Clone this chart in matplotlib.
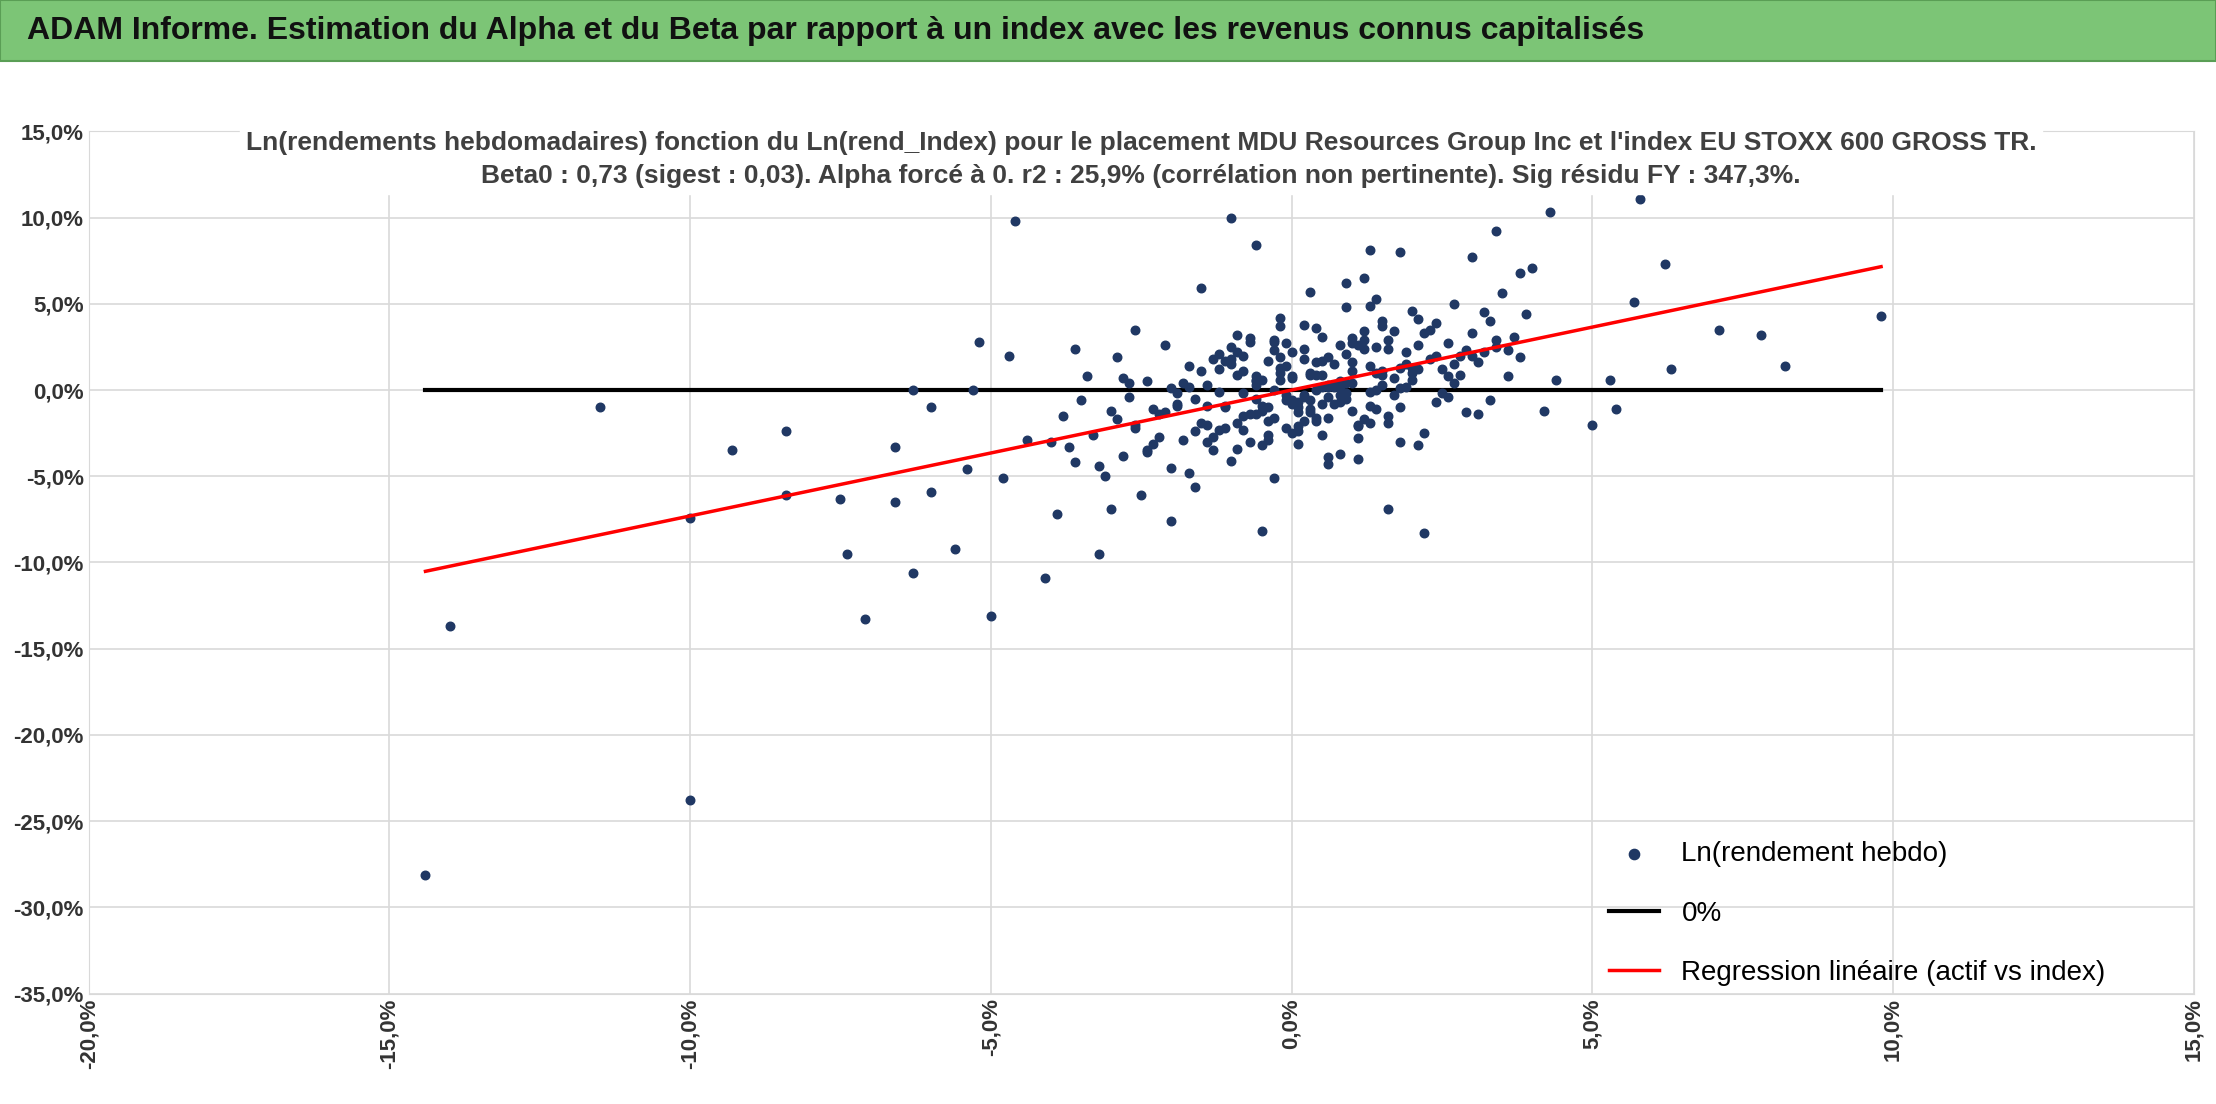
import numpy as np
import matplotlib.pyplot as plt
from matplotlib.ticker import FuncFormatter

# Data (values in %)
idx_ret = [-14.4, -14.0, -11.5, -10.0, -10.0, -9.3, -8.4, -8.4, -7.5, -7.4, -7.1, -6.6, -6.6, -6.3, -6.3,
           -6.0, -6.0, -5.6, -5.4, -5.3, -5.2, -5.0, -4.8, -4.6, -4.7, -4.4, -4.1, -4.0, -3.9, -3.6,
           -3.2, -3.0, -2.6, -2.0, -1.5, -1.0, -0.6, -0.5, 1.3, 1.6, 1.8, 2.2, 3.0, 3.4, 4.3,
           5.8, 5.7, 6.2, 6.3, 7.1, 7.8, 8.2, 9.8, 5.0, 5.4, 5.3, 4.4, 4.2, 3.8, 4.0,
           -3.8, -3.6, -3.4, -3.3, -3.1, -3.0, -2.9, -2.8, -2.7, -2.6, -2.5, -2.4, -2.3, -2.2, -2.1,
           -2.0, -1.9, -1.8, -1.7, -1.6, -1.5, -1.4, -1.3, -1.2, -1.1, -1.0, -0.9, -0.8, -0.7, -0.6,
           -0.5, -0.4, -0.3, -0.2, -0.1, 0.0, 0.1, 0.2, 0.3, 0.4, 0.5, 0.6, 0.7, 0.8, 0.9,
           1.0, 1.1, 1.2, 1.3, 1.4, 1.5, 1.6, 1.7, 1.8, 1.9, 2.0, 2.1, 2.2, 2.3, 2.4,
           2.5, 2.6, 2.7, 2.8, 2.9, 3.0, 3.1, 3.2, 3.3, 3.4, 3.5, 3.6, 3.7, 3.8, 3.9,
           -3.7, -3.5, -3.2, -2.9, -2.7, -2.4, -2.2, -1.9, -1.7, -1.4, -1.2, -0.9, -0.7, -0.4, -0.2,
           0.1, 0.3, 0.6, 0.8, 1.1, 1.3, 1.6, 1.8, 2.1, 2.3, 2.6, 2.8, 3.1, 3.3, 3.6,
           -1.3, -1.1, -0.9, -0.7, -0.5, -0.3, -0.1, 0.1, 0.3, 0.5, 0.7, 0.9, 1.1, 1.3, 1.5,
           -1.2, -1.0, -0.8, -0.6, -0.4, -0.2, 0.0, 0.2, 0.4, 0.6, 0.8, 1.0, 1.2, 1.4, 1.6,
           -0.6, -0.4, -0.2, 0.0, 0.2, 0.4, 0.6, 0.8, 1.0, -0.3, 0.1, 0.5, 0.9, 1.7, 2.0,
           -2.6, -2.1, -1.6, -1.1, -0.6, -0.1, 0.4, 0.9, 1.4, 1.9, 2.4, 2.9, 3.4, 0.2, 0.7,
           -1.9, -1.5, -1.2, -0.8, -0.5, -0.2, 0.1, 0.4, 0.7, 1.0, 1.3, 1.6, 1.9, 2.2, 2.5,
           -1.8, -1.4, -1.0, -0.7, -0.3, 0.0, 0.3, 0.6, 0.9, 1.2, 1.5, 1.8, 2.1, 2.4, 2.7,
           -2.3, -1.7, -1.3, -0.9, -0.5, -0.1, 0.2, 0.5, 0.8, 1.1, 1.4, 1.7, 2.0, 2.6, 3.0,
           -1.6, -1.1, -0.8, -0.4, 0.0, 0.3, 0.6, 0.9, 1.2, 1.5, 1.8, 2.1, -0.2, 0.4, 1.0,
           -2.8, -2.4, -2.0, -1.4, -1.0, -0.6, -0.3, 0.1, 0.5, 0.8, 1.1, 1.4, 2.0, 2.7, 3.2,
           -0.9, -0.6, -0.3, 0.0, 0.2, 0.5, 0.7, 1.0, 1.2, 1.5, -0.8, -0.1, 0.3, 0.6, 1.3]
asset_ret = [-28.1, -13.7, -1.0, -23.8, -7.4, -3.5, -2.4, -6.1, -6.3, -9.5, -13.3, -6.5, -3.3, -10.6, 0.0,
             -5.9, -1.0, -9.2, -4.6, 0.0, 2.8, -13.1, -5.1, 9.8, 2.0, -2.9, -10.9, -3.0, -7.2, 2.4,
             -9.5, -6.9, 3.5, -7.6, 5.9, 10.0, 8.4, -8.2, 8.1, -6.9, 8.0, -8.3, 7.7, 9.2, 10.3,
             11.1, 5.1, 7.3, 1.2, 3.5, 3.2, 1.4, 4.3, -2.0, -1.1, 0.6, 0.6, -1.2, 6.8, 7.1,
             -1.5, -4.2, 0.8, -2.6, -5.0, -1.2, 1.9, -3.8, -0.4, -2.2, -6.1, 0.5, -3.1, -1.4, 2.6,
             -4.5, -0.8, -2.9, 1.4, -5.6, -1.9, 0.3, -3.5, 2.1, -1.0, -4.1, 0.9, -2.3, 3.0, -0.5,
             -3.2, 1.7, -1.6, 4.2, -0.3, 0.7, -2.4, 2.4, -1.1, 3.6, 0.2, -3.9, 1.5, -0.7, 4.8,
             0.4, -2.0, 2.9, -0.9, 5.3, 1.1, -1.5, 3.4, -3.0, 2.2, 0.6, 4.1, -2.5, 1.8, 3.9,
             -0.2, 2.7, 5.0, 0.9, -1.3, 3.3, 1.6, 4.5, -0.6, 2.5, 5.6, 0.8, 3.1, 1.9, 4.4,
             -3.3, -0.6, -4.4, -1.7, 0.4, -3.6, -2.7, -0.2, -4.8, -0.9, 1.2, -3.4, 2.8, -1.8, 3.7,
             -2.1, 1.0, -4.3, 2.6, -2.8, 4.9, -1.9, 1.3, -3.2, 3.5, -0.4, 2.0, -1.4, 4.0, 2.3,
             1.8, -2.2, 3.2, -3.0, 0.6, -5.1, 2.7, -1.3, 5.7, -0.8, 0.2, 6.2, -4.0, 1.4, 0.9,
             -0.1, 2.5, -1.5, 0.8, -2.6, 1.9, -0.6, 3.8, -1.8, 0.3, -3.7, 1.6, 6.5, -1.1, 2.9,
             0.5, -1.0, 1.3, 2.2, -0.3, 0.9, -1.6, 0.1, 1.1, 0.0, -0.7, 1.7, -0.2, 0.7, 1.0,
             -2.0, -1.3, -0.5, -0.9, 0.3, -0.6, 0.0, 0.4, 1.0, 1.5, 2.0, 2.3, 2.9, -0.4, 0.3,
             -0.9, 1.1, -2.3, 2.0, -1.2, 0.6, -3.1, 1.6, -0.8, 3.0, -1.9, 2.4, 0.2, 3.3, 1.2,
             0.4, -3.0, 1.8, -1.4, 2.8, -2.5, 0.9, -0.4, 2.1, -1.7, 3.7, 0.1, 2.6, -0.7, 1.5,
             -1.1, 0.2, -2.7, 2.2, -0.9, 1.4, -1.8, 3.1, 0.5, -2.1, 2.5, -0.3, 4.6, 0.8, 2.0,
             -2.4, 1.7, -0.2, -2.9, 0.8, -1.3, 1.9, -0.5, 3.4, 0.3, -1.0, 1.2, 1.0, -1.6, 2.7,
             0.7, -3.5, 0.1, -2.0, 1.5, -1.4, 2.3, -1.0, 0.9, -0.3, 2.6, 0.0, 1.3, 0.4, 2.2,
             -1.9, 0.6, 2.9, -0.8, 1.8, -2.6, 0.3, -1.2, 2.4, 4.0, 1.1, -2.2, -0.6, 0.2, -0.1]
beta = 0.73
line_x = [-14.4, 9.8]

x = np.array(idx_ret) / 100
y = np.array(asset_ret) / 100
lx = np.array(line_x) / 100

plt.rcParams['font.family'] = ['Liberation Sans', 'DejaVu Sans']
fig = plt.figure(figsize=(22.16, 11.04), dpi=100)

# Green title banner
fig.patches.append(plt.Rectangle((0, 0.945), 1, 0.055, transform=fig.transFigure,
                                 facecolor='#7CC576', edgecolor='#5A9E55', lw=1.5))
fig.text(0.012, 0.972, 'ADAM Informe. Estimation du Alpha et du Beta par rapport à un index avec les revenus connus capitalisés',
         fontsize=23, fontweight='bold', va='center', ha='left', color='#111111')

ax = fig.add_axes([0.04, 0.10, 0.95, 0.781])
ax.scatter(x, y, s=38, color='#203864', label='Ln(rendement hebdo)', zorder=3)
ax.plot(lx, [0, 0], color='black', lw=3, label='0%', zorder=2)
ax.plot(lx, beta * lx, color='#FF0000', lw=2.5, label='Regression linéaire (actif vs index)', zorder=4)

ax.set_xlim(-0.20, 0.15)
ax.set_ylim(-0.35, 0.15)
ax.set_xticks(np.arange(-0.20, 0.151, 0.05))
ax.set_yticks(np.arange(-0.35, 0.151, 0.05))
fmt = FuncFormatter(lambda v, p: f'{v * 100 + 0.0:.1f}%'.replace('-0.0', '0.0').replace('.', ','))
ax.xaxis.set_major_formatter(fmt)
ax.yaxis.set_major_formatter(fmt)
ax.tick_params(axis='x', labelrotation=90, labelsize=16, length=0)
ax.tick_params(axis='y', labelsize=16, length=0)
for lab in ax.get_xticklabels() + ax.get_yticklabels():
    lab.set_fontweight('bold')
    lab.set_color('#333333')
ax.grid(True, color='#D9D9D9', lw=1.2)
ax.set_axisbelow(True)
for s in ax.spines.values():
    s.set_color('#D9D9D9')

ax.set_title("Ln(rendements hebdomadaires) fonction du Ln(rend_Index) pour le placement MDU Resources Group Inc et l'index EU STOXX 600 GROSS TR.\n"
             "Beta0 : 0,73 (sigest : 0,03). Alpha forcé à 0. r2 : 25,9% (corrélation non pertinente). Sig résidu FY : 347,3%.",
             fontsize=19, color='#404040', y=0.93, linespacing=1.5, fontweight='bold',
             backgroundcolor='white')

ax.legend(loc='lower right', frameon=False, fontsize=20, labelspacing=1.2,
          bbox_to_anchor=(0.97, -0.02), handlelength=1.8, markerscale=1.2)

plt.savefig('out.png', dpi=100)
